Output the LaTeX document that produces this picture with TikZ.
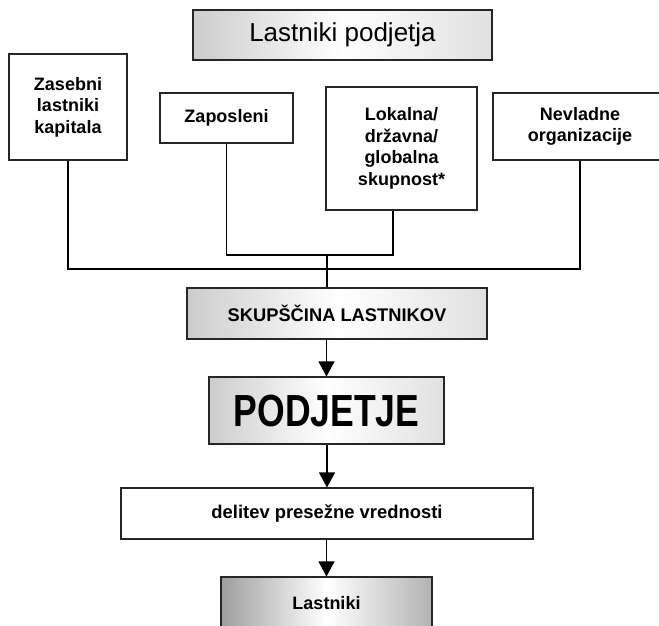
\documentclass[tikz,border=0pt]{standalone}
\usepackage{fontspec}
\setmainfont{Liberation Sans}
\usetikzlibrary{arrows.meta}
\tikzset{
  box/.style={draw=black!85, line width=1.1pt, inner sep=0pt, align=center, font=\bfseries\fontsize{18}{21.5}\selectfont},
  plainbox/.style={box, fill=white},
  shadebox/.style={box, left color=black!38, right color=black!30, middle color=white},
  lightshade/.style={box, left color=black!20, right color=black!12, middle color=white},
  conn/.style={line width=1.1pt, black},
  arr/.style={conn, -{Triangle[length=15pt,width=16pt]}}
}
\begin{document}
\begin{tikzpicture}[x=1pt,y=-1pt]
\useasboundingbox (0,0) rectangle (659,625);
\clip (0,0) rectangle (659,625);
\node[lightshade, minimum width=299pt, minimum height=50pt, font=\fontsize{26}{29}\selectfont] (top) at (342.5,35) {Lastniki podjetja};
\node[plainbox, minimum width=118pt, minimum height=106pt] (zas) at (68,107) {Zasebni\\lastniki\\kapitala};
\node[plainbox, minimum width=133pt, minimum height=50pt] (zap) at (226.5,118) {Zaposleni};
\node[plainbox, minimum width=151pt, minimum height=123pt] (lok) at (401.5,148.5) {Lokalna/\\državna/\\globalna\\skupnost*};
\node[plainbox, minimum width=174pt, minimum height=67pt] (nev) at (580,126.5) {Nevladne\\organizacije};
\node[lightshade, minimum width=300pt, minimum height=51pt, font=\bfseries\fontsize{18.3}{20}\selectfont] (skup) at (337,313.5) {SKUPŠČINA LASTNIKOV};
\node[lightshade, minimum width=235pt, minimum height=67pt, font=\bfseries\fontsize{45}{50}\selectfont] (podj) at (326.5,410.5) {\scalebox{0.79}[1]{PODJETJE}};
\node[plainbox, minimum width=412pt, minimum height=51pt, font=\bfseries\fontsize{18.4}{21.5}\selectfont] (del) at (327,513.5) {delitev presežne vrednosti};
\node[shadebox, minimum width=211pt, minimum height=52pt] (last) at (326.5,603) {Lastniki};
\coordinate (j1) at (327,255);
\coordinate (j2) at (327,269);
\draw[conn] (zas.south) |- (j2) -| (nev.south);
\draw[conn] (zap.south) |- (j1);
\draw[conn] ([xshift=-8.5pt]lok.south) |- (j1);
\draw[conn] (j1) -- (j1 |- skup.north);
\draw[arr] (podj.north |- skup.south) -- (podj.north);
\draw[arr] (del.north |- podj.south) -- (del.north);
\draw[arr] (last.north |- del.south) -- (last.north);
\end{tikzpicture}
\end{document}
